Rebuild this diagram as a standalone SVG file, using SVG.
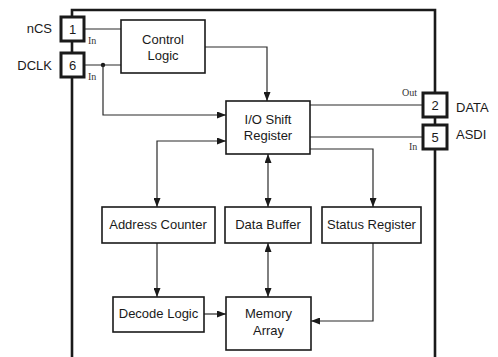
<svg xmlns="http://www.w3.org/2000/svg" width="498" height="357" viewBox="0 0 498 357">
<defs>
<marker id="ah" markerUnits="userSpaceOnUse" markerWidth="9" markerHeight="7" refX="9" refY="3.5" orient="auto-start-reverse">
<path d="M0,0 L9,3.5 L0,7 z" fill="#1a1a1a"/>
</marker>
<style>
.box{fill:#fff;stroke:#1a1a1a;stroke-width:1.6}
.pin{fill:#fff;stroke:#1a1a1a;stroke-width:3}
.border{fill:none;stroke:#1a1a1a;stroke-width:2.6}
.ln{fill:none;stroke:#2a2a2a;stroke-width:1.2}
.t{font-family:"Liberation Sans",Arial,sans-serif;font-size:13px;fill:#1a1a1a;text-anchor:middle}
.pl{font-family:"Liberation Sans",Arial,sans-serif;font-size:13px;fill:#1a1a1a}
.io{font-family:"Liberation Serif","Times New Roman",serif;font-size:10px;fill:#333}
</style>
</defs>
<rect width="498" height="357" fill="#fff"/>
<g id="border">
<path class="border" d="M72,357 V10 H435 V357"/>
</g>
<g id="connectors">
<path class="ln" d="M84,29 H121"/>
<path class="ln" d="M84,65 H121"/>
<circle cx="103" cy="65" r="2.2" fill="#1a1a1a"/>
<path class="ln" d="M103,65 V115 H226" marker-end="url(#ah)"/>
<path class="ln" d="M205,47 H267 V101" marker-end="url(#ah)"/>
<path class="ln" d="M310,105 H423"/>
<path class="ln" d="M310,137 H423"/>
<path class="ln" d="M310,149 H373 V207" marker-end="url(#ah)"/>
<path class="ln" d="M157,207 V141 H226" marker-start="url(#ah)" marker-end="url(#ah)"/>
<path class="ln" d="M268,154 V207" marker-start="url(#ah)" marker-end="url(#ah)"/>
<path class="ln" d="M157,243 V297" marker-end="url(#ah)"/>
<path class="ln" d="M268,243 V297" marker-start="url(#ah)" marker-end="url(#ah)"/>
<path class="ln" d="M204,314 H226" marker-end="url(#ah)"/>
<path class="ln" d="M373,243 V321 H311" marker-end="url(#ah)"/>
</g>
<g id="pin1">
<rect class="pin" x="61" y="17" width="23" height="24"/>
<text class="t" x="72.5" y="34">1</text>
<text class="pl" x="52" y="33" text-anchor="end">nCS</text>
<text class="io" x="88" y="44">In</text>
</g>
<g id="pin6">
<rect class="pin" x="61" y="53" width="23" height="24"/>
<text class="t" x="72.5" y="70">6</text>
<text class="pl" x="52" y="70" text-anchor="end">DCLK</text>
<text class="io" x="88" y="80">In</text>
</g>
<g id="pin2">
<rect class="pin" x="423" y="93" width="24" height="24"/>
<text class="t" x="435" y="110">2</text>
<text class="pl" x="456" y="112">DATA</text>
<text class="io" x="402" y="96">Out</text>
</g>
<g id="pin5">
<rect class="pin" x="423" y="125" width="24" height="24"/>
<text class="t" x="435" y="142">5</text>
<text class="pl" x="456" y="139">ASDI</text>
<text class="io" x="409" y="150">In</text>
</g>
<g id="control-logic">
<rect class="box" x="121" y="20" width="84" height="53"/>
<text class="t" x="163" y="44">Control</text>
<text class="t" x="163" y="60">Logic</text>
</g>
<g id="io-shift-register">
<rect class="box" x="226" y="101" width="84" height="53"/>
<text class="t" x="268" y="124">I/O Shift</text>
<text class="t" x="268" y="140">Register</text>
</g>
<g id="address-counter">
<rect class="box" x="102" y="207" width="113" height="36"/>
<text class="t" x="158" y="229">Address Counter</text>
</g>
<g id="data-buffer">
<rect class="box" x="225" y="207" width="86" height="36"/>
<text class="t" x="268" y="229">Data Buffer</text>
</g>
<g id="status-register">
<rect class="box" x="322" y="207" width="99" height="36"/>
<text class="t" x="371.5" y="229">Status Register</text>
</g>
<g id="decode-logic">
<rect class="box" x="113" y="297" width="91" height="35"/>
<text class="t" x="158.5" y="318">Decode Logic</text>
</g>
<g id="memory-array">
<rect class="box" x="226" y="297" width="85" height="53"/>
<text class="t" x="268.5" y="318">Memory</text>
<text class="t" x="268.5" y="335">Array</text>
</g>
</svg>
